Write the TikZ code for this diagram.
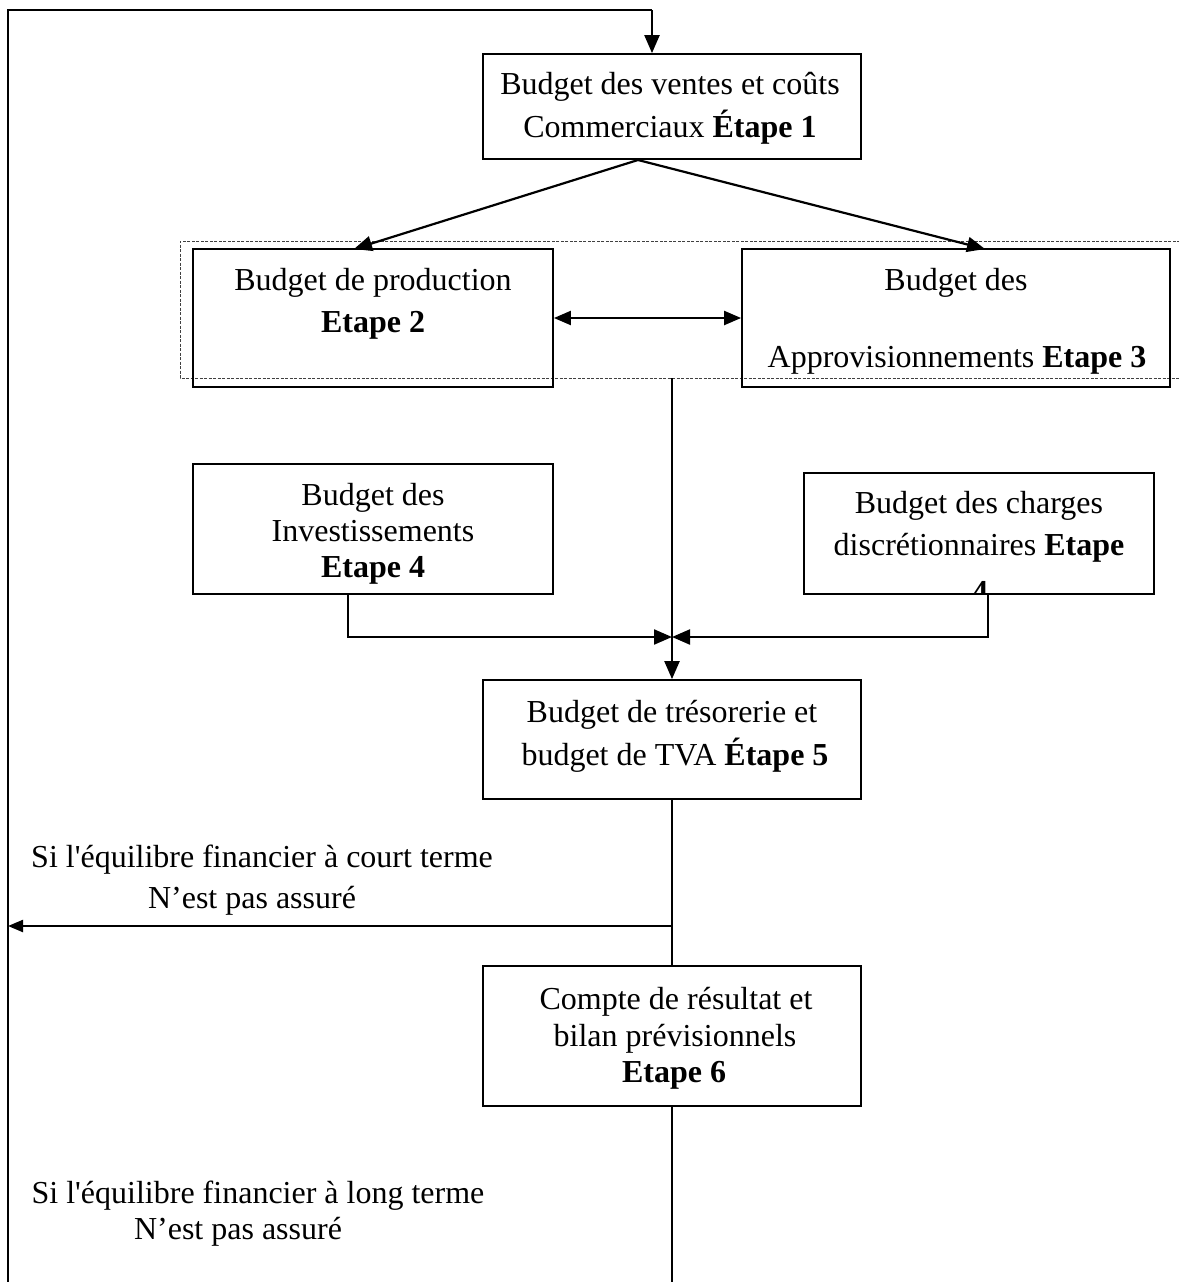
\documentclass[tikz,border=0pt]{standalone}
\usepackage{fontspec}
\setmainfont{Liberation Serif}
\newfontfamily\nomap{Liberation Serif}[Ligatures=TeXOff]
\usetikzlibrary{arrows.meta}
\tikzset{
  box/.style={draw, line width=1.8pt, rectangle, inner sep=0pt},
  txt/.style={anchor=base, inner sep=0pt, font=\fontsize{32}{37}\selectfont},
  conn/.style={line width=2.2pt},
  arr/.style={conn, -{Triangle[length=18pt,width=15pt]}},
  sarr/.style={conn, -{Triangle[length=15pt,width=12pt]}},
  darr/.style={conn, {Triangle[length=17pt,width=14pt]}-{Triangle[length=17pt,width=14pt]}},
  frame/.style={line width=0.9pt, dash pattern=on 3pt off 1.5pt, draw=black!75}
}
\begin{document}
\begin{tikzpicture}[x=1pt,y=-1pt]
\useasboundingbox (0,0) rectangle (1178,1282);

% dotted frame around steps 2 and 3
\draw[frame] (1180,241) -- (180,241) -- (180,378) -- (1180,378);

% boxes
\node[box, minimum width=378pt, minimum height=105pt] (b1) at (672,106.5) {};
\node[box, minimum width=360pt, minimum height=138pt] (b2) at (373,318) {};
\node[box, minimum width=428pt, minimum height=138pt] (b3) at (956,318) {};
\node[box, minimum width=360pt, minimum height=130pt] (b4) at (373,529) {};
\node[box, minimum width=350pt, minimum height=121pt] (b4b) at (979,533.5) {};
\node[box, minimum width=378pt, minimum height=119pt] (b5) at (672,739.5) {};
\node[box, minimum width=378pt, minimum height=140pt] (b6) at (672,1036) {};

% texts
\node[txt] (t1a) at (670,94) {Budget des ventes et coûts};
\node[txt] (t1b) at (670,137) {Commerciaux \textbf{Étape 1}};
\node[txt] (t2a) at (373,290) {Budget de production};
\node[txt] (t2b) at (373,332) {\textbf{Etape 2}};
\node[txt] (t3a) at (956,290) {Budget des};
\node[txt] (t3b) at (957,367) {Approvisionnements \textbf{Etape 3}};
\node[txt] (t4a) at (373,505) {Budget des};
\node[txt] (t4b) at (373,541) {Investissements};
\node[txt] (t4c) at (373,577) {\textbf{Etape 4}};
\node[txt] (t4d) at (979,513) {Budget des charges};
\node[txt] (t4e) at (979,555) {discrétionnaires \textbf{Etape}};
\begin{scope}
  \clip (805,475) rectangle (1153,592.5);
  \node[txt] (t4f) at (980,602) {\textbf{4}};
\end{scope}
\node[txt] (t5a) at (672,722) {Budget de trésorerie et};
\node[txt] (t5b) at (675,765) {budget de TVA \textbf{Étape 5}};
\node[txt] (t6a) at (676,1009) {Compte de résultat et};
\node[txt] (t6b) at (675,1046) {bilan prévisionnels};
\node[txt] (t6c) at (674,1082) {\textbf{Etape 6}};

\node[txt] (l1a) at (262,867) {Si l{\nomap '}équilibre financier à court terme};
\node[txt] (l1b) at (252,908) {N’est pas assuré};
\node[txt] (l2a) at (258,1203) {Si l{\nomap '}équilibre financier à long terme};
\node[txt] (l2b) at (238,1239) {N’est pas assuré};

% coordinates
\coordinate (lt) at (8,1282);
\coordinate (tl) at (8,10);
\coordinate (tr) at (652,10);
\coordinate (s1) at (638,160);
\coordinate (fb) at (672,378);
\coordinate (m) at (672,637);
\coordinate (br) at (672,926);
\coordinate (bl) at (8,926);
\coordinate (bot) at (672,1282);

% loop line and top arrow
\draw[conn] (lt) -- (tl) -- (tr);
\draw[arr] (tr) -- (b1.north -| tr);
% from step 1
\draw[arr] (s1) -- (354,249);
\draw[arr] (s1) -- (985,249);
% between 2 and 3
\draw[darr] (b2.east) -- (b3.west);
% down to step 5
\draw[arr] (fb) -- (b5.north -| fb);
\draw[arr] (b4.south -| 348,0) |- (m);
\draw[arr] (b4b.south -| 988,0) |- (m);
% step 5 to 6
\draw[conn] (b5.south -| fb) -- (b6.north -| fb);
\draw[sarr] (br) -- (bl);
\draw[conn] (b6.south -| fb) -- (bot);
\end{tikzpicture}
\end{document}
